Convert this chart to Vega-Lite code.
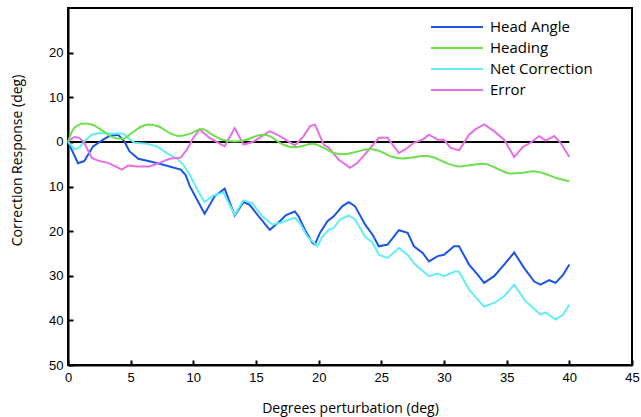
{
  "$schema": "https://vega.github.io/schema/vega-lite/v6.json",
  "autosize": "none",
  "width": 564,
  "height": 357,
  "padding": {"left": 68, "top": 8, "right": 9, "bottom": 52},
  "background": "white",
  "config": {
    "view": {"stroke": "black", "strokeWidth": 2},
    "axis": {
      "grid": false,
      "domainColor": "black",
      "domainWidth": 2,
      "tickColor": "black",
      "tickWidth": 2,
      "tickSize": -5,
      "labelFont": "Liberation Sans",
      "labelFontSize": 13,
      "labelColor": "black",
      "titleFont": "Open Sans",
      "titleFontSize": 14,
      "titleFontWeight": "normal",
      "titleColor": "black"
    }
  },
  "datasets": {
    "lines": [
      {"series": "Head Angle", "x": 0, "y": 0},
      {"series": "Head Angle", "x": 0.8, "y": -4.8},
      {"series": "Head Angle", "x": 1.3, "y": -4.3},
      {"series": "Head Angle", "x": 2, "y": -1},
      {"series": "Head Angle", "x": 2.8, "y": 0.5},
      {"series": "Head Angle", "x": 3.3, "y": 1.3},
      {"series": "Head Angle", "x": 4, "y": 1.6},
      {"series": "Head Angle", "x": 4.5, "y": 0.1},
      {"series": "Head Angle", "x": 4.9, "y": -2.1},
      {"series": "Head Angle", "x": 5.6, "y": -3.8},
      {"series": "Head Angle", "x": 6.4, "y": -4.3},
      {"series": "Head Angle", "x": 7.3, "y": -4.9},
      {"series": "Head Angle", "x": 8.1, "y": -5.5},
      {"series": "Head Angle", "x": 9, "y": -6.2},
      {"series": "Head Angle", "x": 9.4, "y": -7.5},
      {"series": "Head Angle", "x": 9.7, "y": -9.8},
      {"series": "Head Angle", "x": 10, "y": -11.4},
      {"series": "Head Angle", "x": 10.9, "y": -16.1},
      {"series": "Head Angle", "x": 11.7, "y": -12.2},
      {"series": "Head Angle", "x": 12.5, "y": -10.5},
      {"series": "Head Angle", "x": 13.3, "y": -16.5},
      {"series": "Head Angle", "x": 14, "y": -13.5},
      {"series": "Head Angle", "x": 14.5, "y": -14.1},
      {"series": "Head Angle", "x": 15.3, "y": -17},
      {"series": "Head Angle", "x": 16.1, "y": -19.7},
      {"series": "Head Angle", "x": 16.9, "y": -17.8},
      {"series": "Head Angle", "x": 17.4, "y": -16.4},
      {"series": "Head Angle", "x": 18.1, "y": -15.6},
      {"series": "Head Angle", "x": 18.4, "y": -16.7},
      {"series": "Head Angle", "x": 18.9, "y": -19.7},
      {"series": "Head Angle", "x": 19.5, "y": -22.6},
      {"series": "Head Angle", "x": 19.7, "y": -23},
      {"series": "Head Angle", "x": 20.1, "y": -20.4},
      {"series": "Head Angle", "x": 20.7, "y": -17.8},
      {"series": "Head Angle", "x": 21.2, "y": -16.7},
      {"series": "Head Angle", "x": 21.9, "y": -14.4},
      {"series": "Head Angle", "x": 22.4, "y": -13.5},
      {"series": "Head Angle", "x": 22.9, "y": -14.4},
      {"series": "Head Angle", "x": 23.7, "y": -18.5},
      {"series": "Head Angle", "x": 24.3, "y": -20.8},
      {"series": "Head Angle", "x": 24.8, "y": -23.4},
      {"series": "Head Angle", "x": 25.5, "y": -23},
      {"series": "Head Angle", "x": 26.4, "y": -19.8},
      {"series": "Head Angle", "x": 27.1, "y": -20.4},
      {"series": "Head Angle", "x": 27.6, "y": -23.4},
      {"series": "Head Angle", "x": 28.3, "y": -24.9},
      {"series": "Head Angle", "x": 28.8, "y": -26.8},
      {"series": "Head Angle", "x": 29.5, "y": -25.6},
      {"series": "Head Angle", "x": 30, "y": -25.3},
      {"series": "Head Angle", "x": 30.8, "y": -23.4},
      {"series": "Head Angle", "x": 31.2, "y": -23.4},
      {"series": "Head Angle", "x": 32, "y": -27.5},
      {"series": "Head Angle", "x": 32.7, "y": -29.8},
      {"series": "Head Angle", "x": 33.2, "y": -31.6},
      {"series": "Head Angle", "x": 34, "y": -30.1},
      {"series": "Head Angle", "x": 34.8, "y": -27.5},
      {"series": "Head Angle", "x": 35.6, "y": -24.8},
      {"series": "Head Angle", "x": 36.4, "y": -28.3},
      {"series": "Head Angle", "x": 37.2, "y": -31.3},
      {"series": "Head Angle", "x": 37.7, "y": -32},
      {"series": "Head Angle", "x": 38.4, "y": -31},
      {"series": "Head Angle", "x": 38.9, "y": -31.6},
      {"series": "Head Angle", "x": 39.5, "y": -29.8},
      {"series": "Head Angle", "x": 40, "y": -27.5},

      {"series": "Heading", "x": 0, "y": 0},
      {"series": "Heading", "x": 0.5, "y": 3.1},
      {"series": "Heading", "x": 1.3, "y": 4.1},
      {"series": "Heading", "x": 1.9, "y": 3.9},
      {"series": "Heading", "x": 2.8, "y": 2.4},
      {"series": "Heading", "x": 3.7, "y": 0.9},
      {"series": "Heading", "x": 4.4, "y": 0.7},
      {"series": "Heading", "x": 5.1, "y": 2},
      {"series": "Heading", "x": 5.9, "y": 3.5},
      {"series": "Heading", "x": 6.4, "y": 3.9},
      {"series": "Heading", "x": 7.2, "y": 3.5},
      {"series": "Heading", "x": 8.1, "y": 2},
      {"series": "Heading", "x": 8.9, "y": 1.3},
      {"series": "Heading", "x": 9.7, "y": 1.8},
      {"series": "Heading", "x": 10.7, "y": 2.9},
      {"series": "Heading", "x": 11.5, "y": 1.6},
      {"series": "Heading", "x": 12.4, "y": 0.4},
      {"series": "Heading", "x": 13.3, "y": 0.1},
      {"series": "Heading", "x": 14, "y": 0.3},
      {"series": "Heading", "x": 15.5, "y": 1.6},
      {"series": "Heading", "x": 16.1, "y": 1.3},
      {"series": "Heading", "x": 16.9, "y": -0.2},
      {"series": "Heading", "x": 18, "y": -1.2},
      {"series": "Heading", "x": 18.6, "y": -1},
      {"series": "Heading", "x": 19.5, "y": -0.4},
      {"series": "Heading", "x": 20.4, "y": -1.3},
      {"series": "Heading", "x": 21.2, "y": -2.5},
      {"series": "Heading", "x": 22, "y": -2.8},
      {"series": "Heading", "x": 22.9, "y": -2.3},
      {"series": "Heading", "x": 24.1, "y": -1.6},
      {"series": "Heading", "x": 24.9, "y": -2.1},
      {"series": "Heading", "x": 25.9, "y": -3.4},
      {"series": "Heading", "x": 26.7, "y": -3.7},
      {"series": "Heading", "x": 27.7, "y": -3.4},
      {"series": "Heading", "x": 28.5, "y": -3.1},
      {"series": "Heading", "x": 29.2, "y": -3.5},
      {"series": "Heading", "x": 30, "y": -4.5},
      {"series": "Heading", "x": 31.2, "y": -5.5},
      {"series": "Heading", "x": 32.3, "y": -5.1},
      {"series": "Heading", "x": 33.2, "y": -4.9},
      {"series": "Heading", "x": 34.1, "y": -5.8},
      {"series": "Heading", "x": 35.3, "y": -7.1},
      {"series": "Heading", "x": 36.1, "y": -7},
      {"series": "Heading", "x": 37.2, "y": -6.6},
      {"series": "Heading", "x": 38, "y": -7.1},
      {"series": "Heading", "x": 39.1, "y": -8.2},
      {"series": "Heading", "x": 40, "y": -8.8},

      {"series": "Net Correction", "x": 0, "y": 0},
      {"series": "Net Correction", "x": 0.5, "y": -1.6},
      {"series": "Net Correction", "x": 0.9, "y": -1.3},
      {"series": "Net Correction", "x": 1.3, "y": 0.1},
      {"series": "Net Correction", "x": 1.9, "y": 1.6},
      {"series": "Net Correction", "x": 2.5, "y": 2},
      {"series": "Net Correction", "x": 3.3, "y": 1.9},
      {"series": "Net Correction", "x": 4.4, "y": 1.9},
      {"series": "Net Correction", "x": 4.8, "y": 0.9},
      {"series": "Net Correction", "x": 5.3, "y": -0.2},
      {"series": "Net Correction", "x": 6.3, "y": -0.4},
      {"series": "Net Correction", "x": 7.1, "y": -1},
      {"series": "Net Correction", "x": 7.9, "y": -2.5},
      {"series": "Net Correction", "x": 8.7, "y": -3.8},
      {"series": "Net Correction", "x": 9.2, "y": -5.1},
      {"series": "Net Correction", "x": 9.7, "y": -7.3},
      {"series": "Net Correction", "x": 10.3, "y": -10.7},
      {"series": "Net Correction", "x": 10.9, "y": -13.5},
      {"series": "Net Correction", "x": 11.6, "y": -12},
      {"series": "Net Correction", "x": 12.4, "y": -11.4},
      {"series": "Net Correction", "x": 13.3, "y": -16.3},
      {"series": "Net Correction", "x": 14, "y": -13.1},
      {"series": "Net Correction", "x": 14.7, "y": -13.7},
      {"series": "Net Correction", "x": 15.5, "y": -16.7},
      {"series": "Net Correction", "x": 16.3, "y": -18.5},
      {"series": "Net Correction", "x": 16.9, "y": -18.2},
      {"series": "Net Correction", "x": 18.1, "y": -17},
      {"series": "Net Correction", "x": 18.5, "y": -18.2},
      {"series": "Net Correction", "x": 19.1, "y": -21.2},
      {"series": "Net Correction", "x": 19.9, "y": -23.4},
      {"series": "Net Correction", "x": 20.3, "y": -21.2},
      {"series": "Net Correction", "x": 20.8, "y": -19.7},
      {"series": "Net Correction", "x": 21.2, "y": -19.3},
      {"series": "Net Correction", "x": 21.7, "y": -17.4},
      {"series": "Net Correction", "x": 22.4, "y": -16.5},
      {"series": "Net Correction", "x": 22.9, "y": -17.4},
      {"series": "Net Correction", "x": 23.7, "y": -21.2},
      {"series": "Net Correction", "x": 24.3, "y": -22.6},
      {"series": "Net Correction", "x": 24.8, "y": -25.3},
      {"series": "Net Correction", "x": 25.5, "y": -26},
      {"series": "Net Correction", "x": 26.4, "y": -23.8},
      {"series": "Net Correction", "x": 27.1, "y": -25.3},
      {"series": "Net Correction", "x": 27.7, "y": -27.5},
      {"series": "Net Correction", "x": 28.8, "y": -30.1},
      {"series": "Net Correction", "x": 29.5, "y": -29.5},
      {"series": "Net Correction", "x": 30, "y": -30.1},
      {"series": "Net Correction", "x": 30.9, "y": -29},
      {"series": "Net Correction", "x": 31.2, "y": -29.1},
      {"series": "Net Correction", "x": 32, "y": -33.1},
      {"series": "Net Correction", "x": 33.2, "y": -36.9},
      {"series": "Net Correction", "x": 34, "y": -36.1},
      {"series": "Net Correction", "x": 34.8, "y": -34.6},
      {"series": "Net Correction", "x": 35.6, "y": -32},
      {"series": "Net Correction", "x": 36.5, "y": -35.7},
      {"series": "Net Correction", "x": 37.7, "y": -38.7},
      {"series": "Net Correction", "x": 38.1, "y": -38.2},
      {"series": "Net Correction", "x": 38.9, "y": -39.8},
      {"series": "Net Correction", "x": 39.5, "y": -38.7},
      {"series": "Net Correction", "x": 40, "y": -36.5},

      {"series": "Error", "x": 0, "y": 0.1},
      {"series": "Error", "x": 0.5, "y": 1.1},
      {"series": "Error", "x": 0.9, "y": 0.9},
      {"series": "Error", "x": 1.3, "y": -0.2},
      {"series": "Error", "x": 1.9, "y": -3.6},
      {"series": "Error", "x": 2.5, "y": -4.3},
      {"series": "Error", "x": 3.2, "y": -4.7},
      {"series": "Error", "x": 4.3, "y": -6.2},
      {"series": "Error", "x": 4.8, "y": -5.3},
      {"series": "Error", "x": 5.5, "y": -5.5},
      {"series": "Error", "x": 6.5, "y": -5.5},
      {"series": "Error", "x": 7.3, "y": -4.7},
      {"series": "Error", "x": 8.1, "y": -3.8},
      {"series": "Error", "x": 9, "y": -3.5},
      {"series": "Error", "x": 9.5, "y": -1.7},
      {"series": "Error", "x": 10, "y": 0.9},
      {"series": "Error", "x": 10.5, "y": 2.8},
      {"series": "Error", "x": 11.3, "y": 0.9},
      {"series": "Error", "x": 12.5, "y": -1},
      {"series": "Error", "x": 13.3, "y": 3.1},
      {"series": "Error", "x": 14, "y": -0.6},
      {"series": "Error", "x": 14.7, "y": -0.1},
      {"series": "Error", "x": 16.1, "y": 2.4},
      {"series": "Error", "x": 16.9, "y": 1.3},
      {"series": "Error", "x": 18.1, "y": -0.8},
      {"series": "Error", "x": 18.8, "y": 1.3},
      {"series": "Error", "x": 19.3, "y": 3.5},
      {"series": "Error", "x": 19.7, "y": 3.9},
      {"series": "Error", "x": 20.4, "y": -0.6},
      {"series": "Error", "x": 20.8, "y": -1.3},
      {"series": "Error", "x": 21.6, "y": -4},
      {"series": "Error", "x": 22.5, "y": -5.8},
      {"series": "Error", "x": 23.1, "y": -4.7},
      {"series": "Error", "x": 23.9, "y": -2.1},
      {"series": "Error", "x": 24.8, "y": 0.9},
      {"series": "Error", "x": 25.5, "y": 0.9},
      {"series": "Error", "x": 25.9, "y": -0.6},
      {"series": "Error", "x": 26.4, "y": -2.5},
      {"series": "Error", "x": 26.9, "y": -1.7},
      {"series": "Error", "x": 27.6, "y": -0.2},
      {"series": "Error", "x": 28.3, "y": 0.5},
      {"series": "Error", "x": 28.8, "y": 1.6},
      {"series": "Error", "x": 29.5, "y": 0.5},
      {"series": "Error", "x": 30, "y": 0.5},
      {"series": "Error", "x": 30.5, "y": -1.3},
      {"series": "Error", "x": 31.2, "y": -1.9},
      {"series": "Error", "x": 32, "y": 1.6},
      {"series": "Error", "x": 32.5, "y": 2.8},
      {"series": "Error", "x": 33.2, "y": 3.9},
      {"series": "Error", "x": 34, "y": 2.4},
      {"series": "Error", "x": 34.8, "y": 0.5},
      {"series": "Error", "x": 35.6, "y": -3.4},
      {"series": "Error", "x": 36.3, "y": -1.1},
      {"series": "Error", "x": 36.9, "y": -0.2},
      {"series": "Error", "x": 37.6, "y": 1.3},
      {"series": "Error", "x": 38.1, "y": 0.3},
      {"series": "Error", "x": 38.8, "y": 1.3},
      {"series": "Error", "x": 39.3, "y": -0.2},
      {"series": "Error", "x": 40, "y": -3.4}
    ],
    "zero": [{"x0": 0, "x1": 40, "y": 0}]
  },
  "layer": [
    {
      "data": {"name": "zero"},
      "mark": {"type": "rule", "color": "black", "strokeWidth": 2},
      "encoding": {
        "x": {"field": "x0", "type": "quantitative", "scale": {"domain": [0, 45]}},
        "x2": {"field": "x1"},
        "y": {"field": "y", "type": "quantitative", "scale": {"domain": [-50, 30]}}
      }
    },
    {
      "data": {"name": "lines"},
      "transform": [{"filter": "datum.series !== 'Heading'"}],
      "mark": {"type": "line", "strokeWidth": 2, "interpolate": "linear"},
      "encoding": {
        "x": {
          "field": "x", "type": "quantitative",
          "scale": {"domain": [0, 45], "nice": false},
          "axis": {"values": [0, 5, 10, 15, 20, 25, 30, 35, 40, 45], "title": "Degrees perturbation (deg)", "labelPadding": 11, "titlePadding": 17, "labelFlush": false}
        },
        "y": {
          "field": "y", "type": "quantitative",
          "scale": {"domain": [-50, 30], "nice": false},
          "axis": {"values": [-50, -40, -30, -20, -10, 0, 10, 20], "labelExpr": "'' + abs(datum.value)", "title": "Correction Response (deg)", "labelPadding": 10, "titlePadding": 24, "titleY": 152}
        },
        "color": {
          "field": "series", "type": "nominal",
          "scale": {"domain": ["Head Angle", "Heading", "Net Correction", "Error"], "range": ["#1a55e6", "#6ddf4b", "#63eef7", "#e86ee6"]},
          "legend": {
            "title": null, "orient": "none", "legendX": 378, "legendY": 8,
            "symbolType": "M-2.6,0H2.6", "symbolSize": 400, "symbolStrokeWidth": 2,
            "labelFont": "Open Sans", "labelFontSize": 15, "labelColor": "black",
            "labelOffset": 22, "rowPadding": 2
          }
        },
        "detail": {"field": "series"},
        "order": {"field": "x", "type": "quantitative"}
      }
    },
    {
      "data": {"name": "lines"},
      "transform": [{"filter": "datum.series === 'Heading'"}],
      "mark": {"type": "line", "strokeWidth": 2, "interpolate": "monotone"},
      "encoding": {
        "x": {"field": "x", "type": "quantitative"},
        "y": {"field": "y", "type": "quantitative"},
        "color": {"field": "series", "type": "nominal"}
      }
    }
  ]
}
